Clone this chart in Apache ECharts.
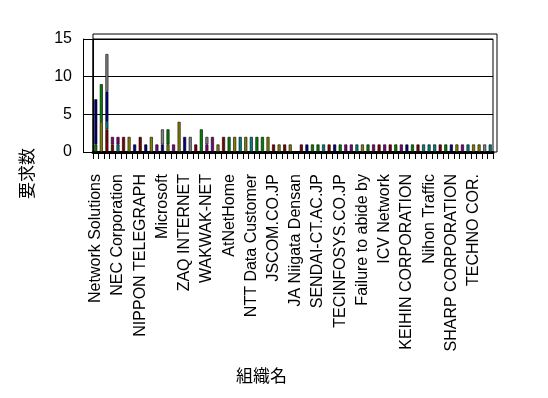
<!DOCTYPE html>
<html><head><meta charset="utf-8">
<script src="https://cdn.jsdelivr.net/npm/echarts@6/dist/echarts.min.js"></script>
<style>html,body{margin:0;padding:0;background:#fff}#c{width:548px;height:398px}</style>
</head><body><div id="c"></div>
<script>
// Shown category labels (every 4th organisation of 72)
const shownLabels = ['Network Solutions','NEC Corporation','NIPPON TELEGRAPH','Microsoft','ZAQ INTERNET','WAKWAK-NET','AtNetHome','NTT Data Customer','JSCOM.CO.JP','JA Niigata Densan','SENDAI-CT.AC.JP','TECINFOSYS.CO.JP','Failure to abide by','ICV Network','KEIHIN CORPORATION','Nihon Traffic','SHARP CORPORATION','TECHNO COR.'];
const categoryCount = 72;
const yTicks = [0, 5, 10, 15];
const yName = '要求数';
const xName = '組織名';

const maroon = [0,0,3,1,0,2,0,0,2,0, 0,0,0,0,0,0,0,0,1,0, 0,0,0,2,0,0,0,0,0,0, 0,0,1,0,1,0,0,1,0,0, 0,0,1,0,0,0,0,0,0,0, 0,1,0,1,0,0,0,0,1,0, 0,0,1,0,0,0,0,0,0,0, 0,0];
const teal   = [0,0,1,0,1,0,0,0,0,0, 0,0,0,0,0,0,0,0,0,0, 0,0,0,0,0,0,2,0,2,0, 0,0,0,0,0,0,0,0,0,0, 0,1,0,0,0,0,0,1,0,0, 0,0,0,0,0,0,0,0,0,1, 1,1,0,0,0,0,0,1,0,0, 0,1];
const olive  = [0,4,0,0,0,0,2,0,0,0, 2,0,0,1,0,4,0,0,0,0, 0,0,1,0,0,2,0,2,0,0, 0,2,0,1,0,1,0,0,0,0, 0,0,0,0,0,0,0,0,1,0, 0,0,0,0,0,0,0,0,0,0, 0,0,0,0,0,1,0,0,1,1, 0,0];
const green  = [1,5,0,0,0,0,0,0,0,0, 0,0,0,2,0,0,0,0,0,3, 0,0,0,0,2,0,0,0,0,2, 2,0,0,0,0,0,0,0,0,1, 1,0,0,0,1,0,0,0,0,1, 0,0,0,0,1,0,0,1,0,0, 0,0,0,1,0,0,0,0,0,0, 0,0];
const navy   = [6,0,4,0,0,0,0,1,0,1, 0,0,1,0,0,0,2,0,0,0, 0,0,0,0,0,0,0,0,0,0, 0,0,0,0,0,0,0,0,1,0, 0,0,0,1,0,0,0,0,0,0, 0,0,0,0,0,0,1,0,0,0, 0,0,0,0,1,0,0,0,0,0, 0,0];
const purple = [0,0,0,1,1,0,0,0,0,0, 0,1,0,0,1,0,0,0,0,0, 1,2,0,0,0,0,0,0,0,0, 0,0,0,0,0,0,0,0,0,0, 0,0,0,0,0,1,1,0,0,0, 1,0,1,0,0,1,0,0,0,0, 0,0,0,0,0,0,1,0,0,0, 0,0];
const gray   = [0,0,5,0,0,0,0,0,0,0, 0,0,2,0,0,0,0,2,0,0, 1,0,0,0,0,0,0,0,0,0, 0,0,0,0,0,0,0,0,0,0, 0,0,0,0,0,0,0,0,0,0, 0,0,0,0,0,0,0,0,0,0, 0,0,0,0,0,0,0,0,0,0, 1,0];

const seriesDefs = [
  ['maroon', maroon, '#800000'],
  ['teal', teal, '#008080'],
  ['olive', olive, '#808000'],
  ['green', green, '#008000'],
  ['navy', navy, '#000080'],
  ['purple', purple, '#800080'],
  ['gray', gray, '#808080']
];

const categories = [];
for (let i = 0; i < categoryCount; i++) {
  categories.push(i % 4 === 0 ? shownLabels[i / 4] : '');
}

const chart = echarts.init(document.getElementById('c'), null, {renderer: 'canvas'});
const LEFT = 93, RIGHT = 55, TOP = 39, BOTTOM = 246;
const font = 'Liberation Sans';

chart.setOption({
  animation: false,
  grid: [
    {left: LEFT, right: RIGHT, top: TOP, bottom: BOTTOM, show: true, borderColor: '#000', borderWidth: 1, backgroundColor: 'transparent'},
    {left: LEFT, right: RIGHT - 4, top: TOP - 5, bottom: BOTTOM, show: true, borderColor: '#000', borderWidth: 1, backgroundColor: 'transparent'}
  ],
  xAxis: [
    {type: 'category', gridIndex: 0, data: categories,
     axisLine: {show: true, lineStyle: {color: '#000', width: 3}},
     axisTick: {show: true, interval: 0, length: 7, lineStyle: {color: '#000', width: 1}},
     axisLabel: {interval: 3, rotate: 90, margin: 22, color: '#000', fontFamily: font, fontSize: 16}},
    {type: 'category', gridIndex: 0, data: categories, position: 'bottom', offset: 8,
     axisLine: {show: true, lineStyle: {color: '#000', width: 1}},
     axisTick: {show: false}, axisLabel: {show: false}},
    {type: 'category', gridIndex: 1, data: categories, show: false}
  ],
  yAxis: [
    {type: 'value', gridIndex: 0, min: yTicks[0], max: yTicks[yTicks.length - 1], interval: 5,
     axisLine: {show: true, lineStyle: {color: '#000', width: 1}},
     axisTick: {show: true, length: 10, lineStyle: {color: '#000'}},
     splitLine: {show: true, lineStyle: {color: '#000', width: 1}},
     axisLabel: {margin: 21, color: '#000', fontFamily: font, fontSize: 16}},
    {type: 'value', gridIndex: 0, min: 0, max: 15, position: 'left', offset: 10,
     axisLine: {show: true, lineStyle: {color: '#000', width: 1}},
     axisTick: {show: false}, axisLabel: {show: false}, splitLine: {show: false}},
    {type: 'value', gridIndex: 1, show: false, splitLine: {show: false}}
  ],
  series: seriesDefs.map(([name, vals, color]) => ({
    name: name, type: 'bar', stack: 'total', xAxisIndex: 0, yAxisIndex: 0,
    barWidth: 3,
    data: vals.map(v => v === 0 ? null : v),
    itemStyle: {color: color, borderColor: '#000', borderWidth: 0.6}
  })),
  graphic: [
    {type: 'text', left: 18, top: 148, rotation: Math.PI / 2,
     style: {text: yName, font: '17px "Noto Sans CJK JP"', fill: '#000'}},
    {type: 'text', left: 236, top: 367,
     style: {text: xName, font: '17px "Noto Sans CJK JP"', fill: '#000'}}
  ]
});
</script></body></html>
